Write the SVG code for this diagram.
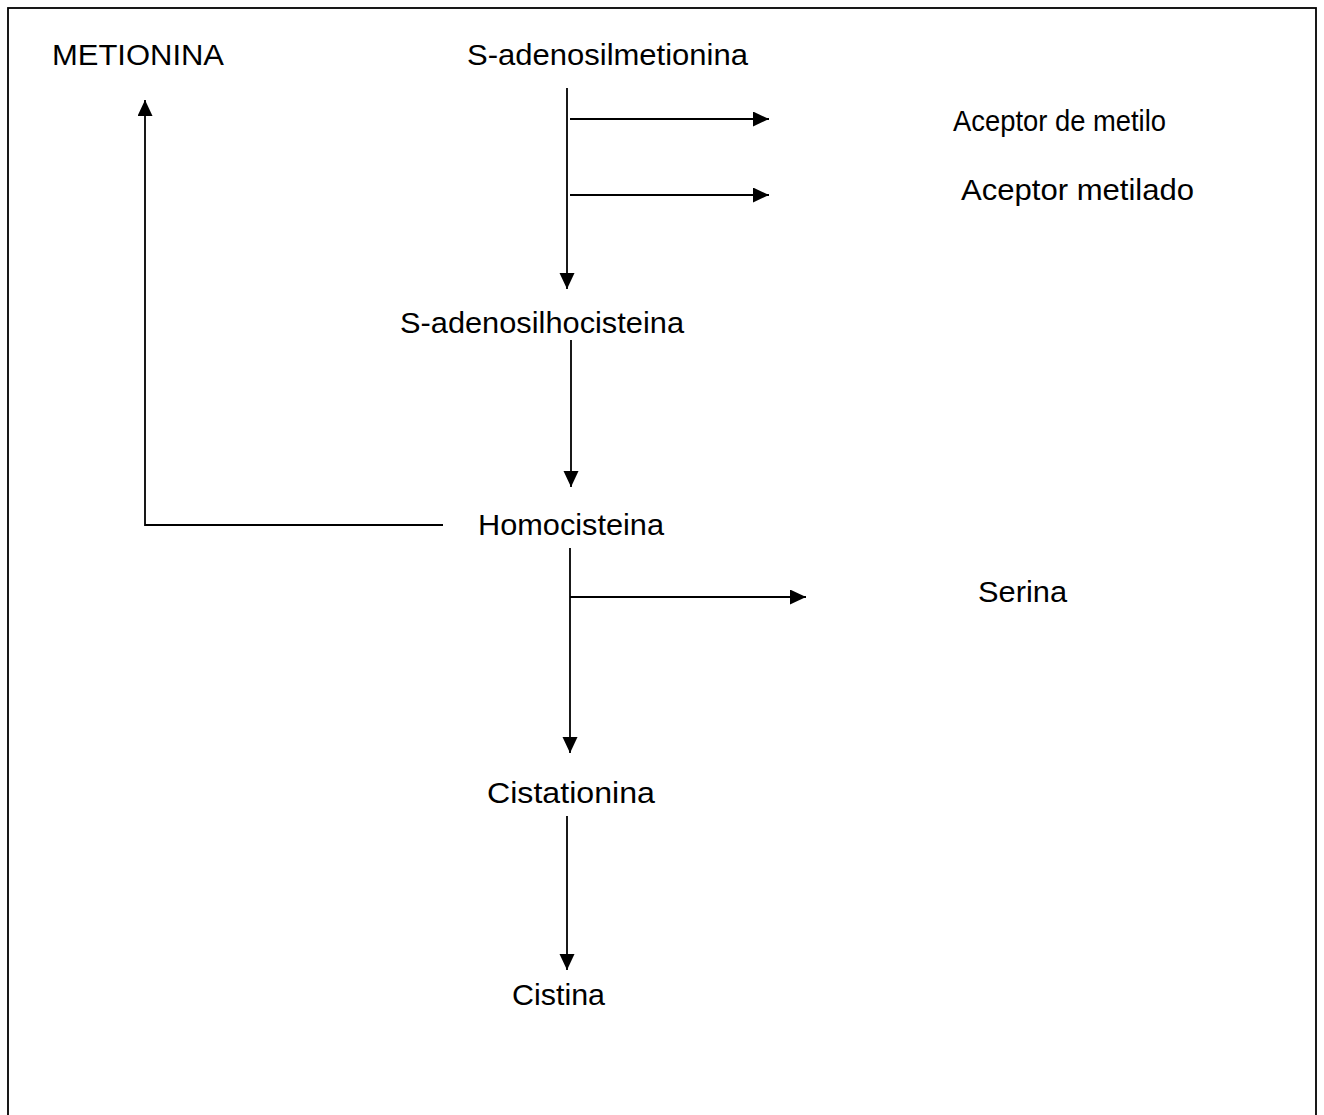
<svg xmlns="http://www.w3.org/2000/svg" width="1324" height="1115" viewBox="0 0 1324 1115">
<style>
text{font-family:"Liberation Sans",Arial,sans-serif;font-size:30px;fill:#000}
.c{stroke:#000;stroke-width:1.8;fill:none}
</style>
<defs>
<marker id="ah" markerUnits="userSpaceOnUse" markerWidth="17" markerHeight="16" refX="16" refY="7.5" orient="auto">
<path d="M0,0 L16,7.5 L0,15 z" fill="#000"/>
</marker>
</defs>
<rect x="8" y="8" width="1308" height="1200" fill="#fff" stroke="#000" stroke-width="1.8"/>
<g id="connectors">
<path class="c" d="M567,88 V289" marker-end="url(#ah)"/>
<path class="c" d="M570,119 H769" marker-end="url(#ah)"/>
<path class="c" d="M570,195 H769" marker-end="url(#ah)"/>
<path class="c" d="M571,340 V487" marker-end="url(#ah)"/>
<path class="c" d="M443,525 H145 V100" marker-end="url(#ah)"/>
<path class="c" d="M570,548 V753" marker-end="url(#ah)"/>
<path class="c" d="M570,597 H806" marker-end="url(#ah)"/>
<path class="c" d="M567,816 V970" marker-end="url(#ah)"/>
</g>
<g id="metionina"><text x="52" y="65" textLength="172" lengthAdjust="spacingAndGlyphs">METIONINA</text></g>
<g id="s-adenosilmetionina"><text x="467" y="65" textLength="281" lengthAdjust="spacingAndGlyphs">S-adenosilmetionina</text></g>
<g id="aceptor-de-metilo"><text x="953" y="131" textLength="213" lengthAdjust="spacingAndGlyphs">Aceptor de metilo</text></g>
<g id="aceptor-metilado"><text x="961" y="200" textLength="233" lengthAdjust="spacingAndGlyphs">Aceptor metilado</text></g>
<g id="s-adenosilhocisteina"><text x="400" y="333" textLength="284" lengthAdjust="spacingAndGlyphs">S-adenosilhocisteina</text></g>
<g id="homocisteina"><text x="478" y="535" textLength="186" lengthAdjust="spacingAndGlyphs">Homocisteina</text></g>
<g id="serina"><text x="978" y="602" textLength="89" lengthAdjust="spacingAndGlyphs">Serina</text></g>
<g id="cistationina"><text x="487" y="803" textLength="168" lengthAdjust="spacingAndGlyphs">Cistationina</text></g>
<g id="cistina"><text x="512" y="1005" textLength="93" lengthAdjust="spacingAndGlyphs">Cistina</text></g>
</svg>
